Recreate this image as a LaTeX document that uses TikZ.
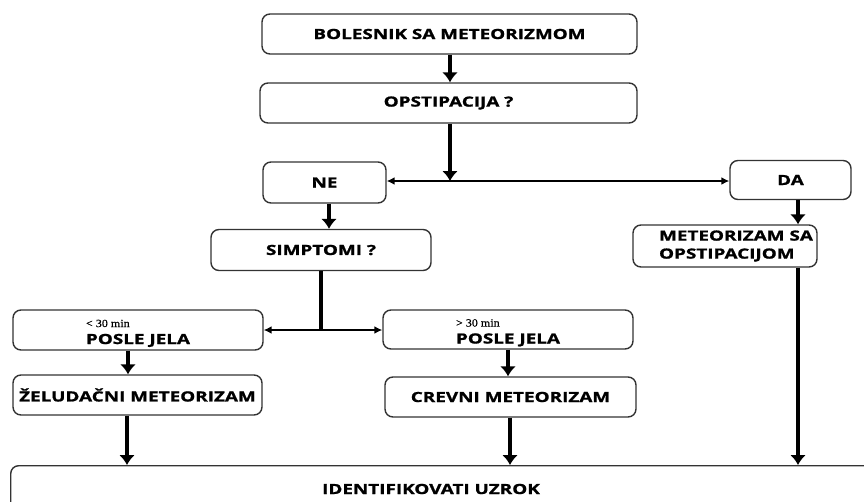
\documentclass[tikz,border=0pt]{standalone}
\usepackage{fontspec}
\setmainfont{Open Sans}
\newfontfamily\kutfont{Open Sans}[FakeStretch=1.35,FakeBold=1.2]
\newfontfamily\minfont{Liberation Serif}[FakeStretch=1.1,FakeBold=0.6]
\usetikzlibrary{arrows.meta}
\tikzset{
  >={Latex[length=10pt,width=16pt]},
  blok/.style = {draw=black!80, line width=1.4pt, rounded corners=8pt,
                 align=center, inner sep=0pt,
                 font=\kutfont\bfseries\fontsize{14}{18}\selectfont},
  tok/.style = {draw, line width=4pt, ->},
  grana/.style = {draw, line width=2.2pt, <->,
                  >={Latex[length=8pt,width=8pt]}},
  veza/.style = {draw, line width=4pt},
}
\newcommand{\malo}[1]{{\minfont\mdseries\fontsize{11}{12}\selectfont\rule{0pt}{14pt}#1}}

\begin{document}
\begin{tikzpicture}[x=1pt,y=-1pt]
\useasboundingbox (0,0) rectangle (864,501);
\clip (0,0) rectangle (864,501);
% kutije
\node[blok, minimum width=375pt, minimum height=40pt] (bol) at (449.5,34) {BOLESNIK SA METEORIZMOM};
\node[blok, minimum width=377pt, minimum height=40pt] (ops) at (448.5,103) {OPSTIPACIJA ?};
\node[blok, minimum width=123pt, minimum height=41pt] (ne) at (324.5,182.5) {NE};
\node[blok, minimum width=121pt, minimum height=39pt] (da) at (790.5,180) {DA};
\node[blok, minimum width=220pt, minimum height=41pt] (simp) at (321,250) {SIMPTOMI ?};
\node[blok, minimum width=184pt, minimum height=42pt, align=left] (msa) at (725,246)
  {\hspace*{22pt}METEORIZAM SA\\\hspace*{22pt}OPSTIPACIJOM};
\node[blok, minimum width=250pt, minimum height=40pt, align=left] (lt) at (138,330)
  {\malo{< 30 min}\\[-1pt]POSLE JELA};
\node[blok, minimum width=250pt, minimum height=39pt, align=left] (gt) at (508,329.5)
  {\malo{> 30 min}\\[-1pt]POSLE JELA};
\node[blok, minimum width=249pt, minimum height=40pt] (zel) at (137.5,395) {ŽELUDAČNI METEORIZAM};
\node[blok, minimum width=251pt, minimum height=40pt] (crev) at (510.5,397) {CREVNI METEORIZAM};
\node[blok, minimum width=870pt, minimum height=60pt, anchor=north west] (uzr) at (10,465) {};
\node[font=\kutfont\bfseries\fontsize{14}{18}\selectfont] (uzrt) at (431,489) {IDENTIFIKOVATI UZROK};
% veze
\coordinate (r1) at (ops.south -| 450,0);
\coordinate (r1d) at (450,181);
\coordinate (r2) at (321,330);
\path[tok] (bol.south -| 450,0) -- (ops.north -| 450,0);
\path[tok] (r1) -- (r1d);
\path[grana] (ne.east |- r1d) -- (da.west |- r1d);
\path[tok] (ne.south -| 329,0) -- (simp.north -| 329,0);
\path[tok] (da.south -| 798,0) -- (msa.north -| 798,0);
\path[veza] (simp.south -| r2) -- (r2);
\path[grana] (lt.east |- r2) -- (gt.west |- r2);
\path[tok] (lt.south -| 128,0) -- (zel.north -| 128,0);
\path[tok] (gt.south -| 508,0) -- (crev.north -| 508,0);
\path[tok] (zel.south -| 127,0) -- (uzr.north -| 127,0);
\path[tok] (crev.south -| 510,0) -- (uzr.north -| 510,0);
\path[tok] (msa.south -| 798,0) -- (uzr.north -| 798,0);
\end{tikzpicture}
\end{document}
